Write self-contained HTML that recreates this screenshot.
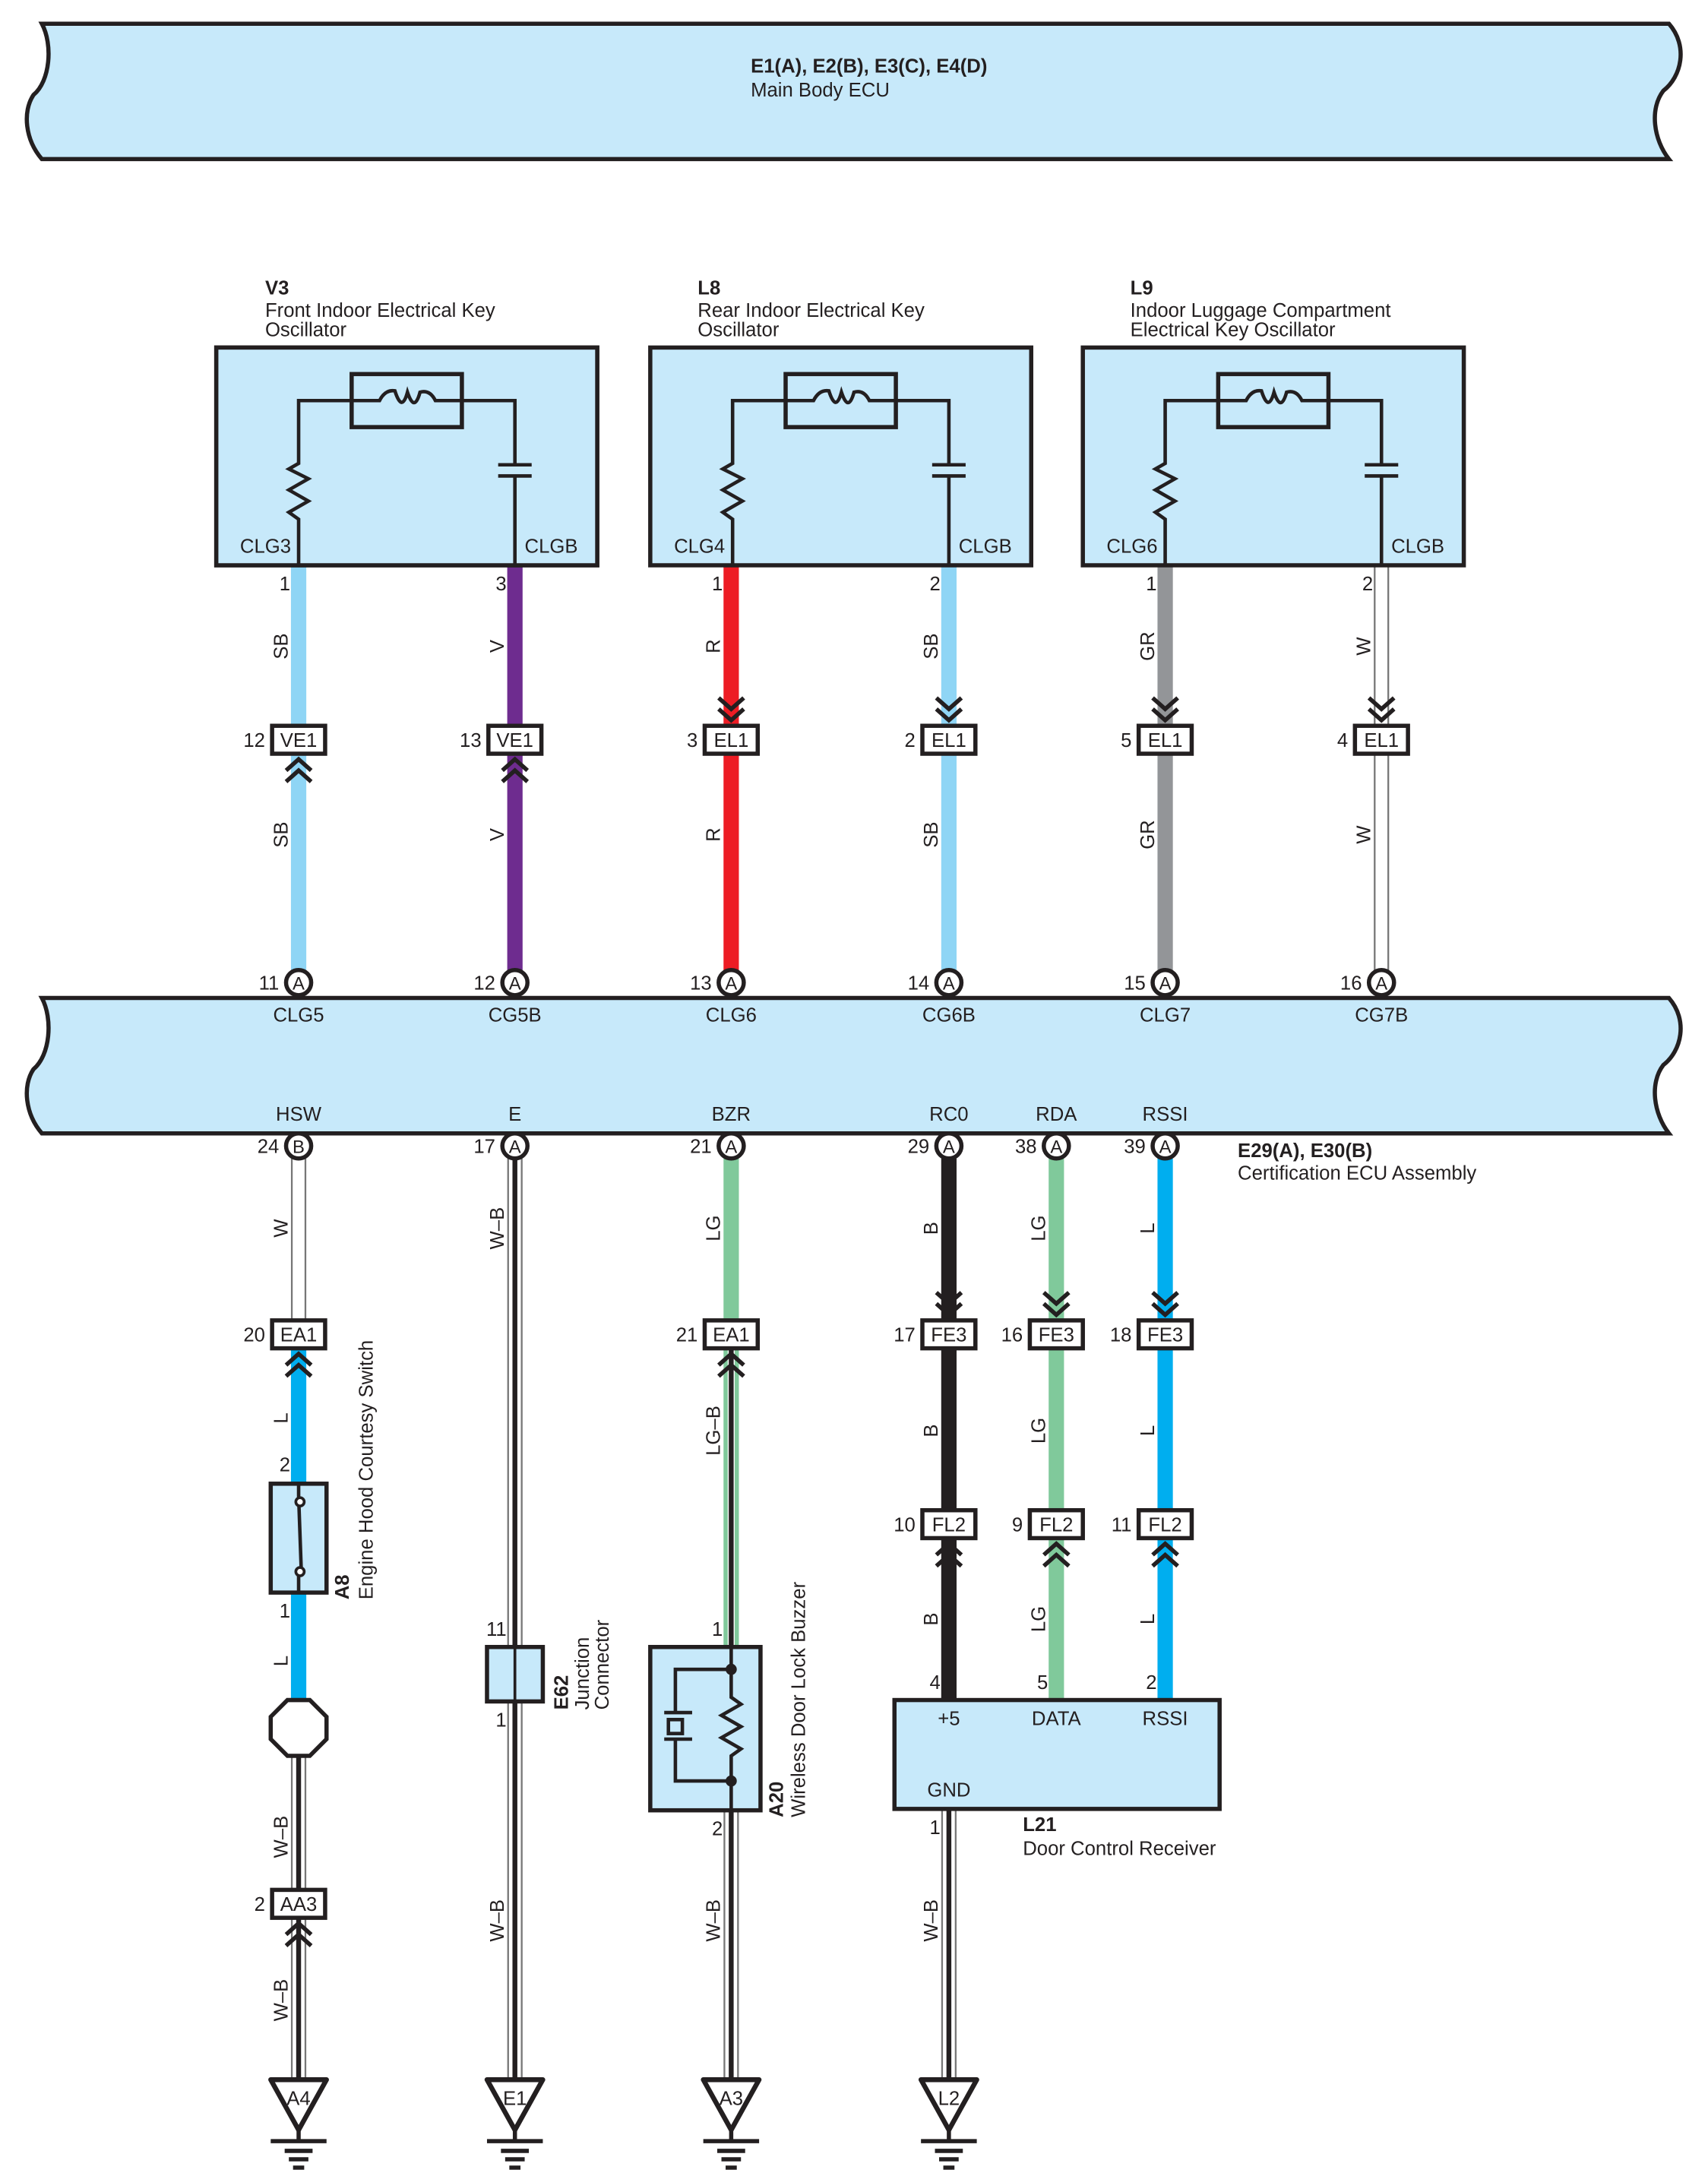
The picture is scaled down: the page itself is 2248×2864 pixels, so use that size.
<!DOCTYPE html>
<html><head><meta charset="utf-8"><style>
html,body{margin:0;padding:0;background:#fff}
svg{display:block}
text{font-family:"Liberation Sans",sans-serif;font-size:14px;fill:#231f20}
.b{font-weight:bold}
.m{text-anchor:middle}
.e{text-anchor:end}
</style></head><body>
<svg width="2248" height="2864" viewBox="0 0 1224 1559" preserveAspectRatio="none" xmlns="http://www.w3.org/2000/svg">
<defs>
<g id="osc">
<rect x="155" y="249" width="273" height="156" fill="#c7e9fa" stroke="#231f20" stroke-width="3"/>
<rect x="252" y="268" width="79" height="38" fill="none" stroke="#231f20" stroke-width="3"/>
<path d="M214,405 V372 L207,367 L221,359 L207,351 L221,343 L207,336 L214,332 V287 H272 Q276,279 283,280 Q288,296 292,281 Q297,296 301,281 Q308,279 312,287 H369 V333 M357,333 H381 M357,341 H381 M369,341 V405" fill="none" stroke="#231f20" stroke-width="2.5"/>
</g>
<g id="ground">
<polygon points="-20,0 20,0 0,36" fill="#fff" stroke="#231f20" stroke-width="3.5" stroke-linejoin="round"/>
<path d="M0,36 V44 M-20,44 H20 M-10,51 H10 M-7,57 H7 M-4,63 H4" stroke="#231f20" stroke-width="3"/>
</g>
<path id="chup" d="M-9,12 L0,4 L9,12 M-9,20 L0,12 L9,20" fill="none" stroke="#231f20" stroke-width="3"/>
<path id="chdn" d="M-9,-20 L0,-12 L9,-20 M-9,-12 L0,-4 L9,-12" fill="none" stroke="#231f20" stroke-width="3"/>
</defs>

<!-- top banner -->
<path d="M30,17 H1196 C1210,33 1205,55 1192,65 C1182,78 1185,100 1196,114 H30 C18,100 16,80 24,68 C36,58 38,32 30,17 Z" fill="#c7e9fa" stroke="#231f20" stroke-width="3"/>
<text x="538" y="52" class="b">E1(A), E2(B), E3(C), E4(D)</text>
<text x="538" y="69">Main Body ECU</text>

<!-- oscillator titles -->
<text x="190" y="211" class="b">V3</text><text x="190" y="227">Front Indoor Electrical Key</text><text x="190" y="241">Oscillator</text>
<text x="500" y="211" class="b">L8</text><text x="500" y="227">Rear Indoor Electrical Key</text><text x="500" y="241">Oscillator</text>
<text x="810" y="211" class="b">L9</text><text x="810" y="227">Indoor Luggage Compartment</text><text x="810" y="241">Electrical Key Oscillator</text>

<!-- upper wires -->
<g stroke-width="11">
<line x1="214" y1="405" x2="214" y2="696" stroke="#8fd5f5"/>
<line x1="369" y1="405" x2="369" y2="696" stroke="#6e2c8f"/>
<line x1="524" y1="405" x2="524" y2="696" stroke="#ed1c24"/>
<line x1="680" y1="405" x2="680" y2="696" stroke="#8fd5f5"/>
<line x1="835" y1="405" x2="835" y2="696" stroke="#939598"/>
<line x1="990" y1="405" x2="990" y2="696" stroke="#777"/>
</g>
<line x1="990" y1="405" x2="990" y2="696" stroke="#fff" stroke-width="8.5"/>

<g id="oscs">
<g><rect x="155" y="249" width="273" height="156" fill="#c7e9fa" stroke="#231f20" stroke-width="3"/></g>
</g>
<use href="#osc"/>
<use href="#osc" transform="translate(311,0)"/>
<use href="#osc" transform="translate(621,0)"/>
<text x="172" y="396">CLG3</text><text x="376" y="396">CLGB</text>
<text x="483" y="396">CLG4</text><text x="687" y="396">CLGB</text>
<text x="793" y="396">CLG6</text><text x="997" y="396">CLGB</text>

<!-- pin numbers top -->
<text x="208" y="423" class="e">1</text><text x="363" y="423" class="e">3</text>
<text x="518" y="423" class="e">1</text><text x="674" y="423" class="e">2</text>
<text x="829" y="423" class="e">1</text><text x="984" y="423" class="e">2</text>

<!-- wire color labels rotated -->
<g>
<text transform="translate(206,463) rotate(-90)" class="m">SB</text>
<text transform="translate(206,598) rotate(-90)" class="m">SB</text>
<text transform="translate(361,463) rotate(-90)" class="m">V</text>
<text transform="translate(361,598) rotate(-90)" class="m">V</text>
<text transform="translate(516,463) rotate(-90)" class="m">R</text>
<text transform="translate(516,598) rotate(-90)" class="m">R</text>
<text transform="translate(672,463) rotate(-90)" class="m">SB</text>
<text transform="translate(672,598) rotate(-90)" class="m">SB</text>
<text transform="translate(827,463) rotate(-90)" class="m">GR</text>
<text transform="translate(827,598) rotate(-90)" class="m">GR</text>
<text transform="translate(982,463) rotate(-90)" class="m">W</text>
<text transform="translate(982,598) rotate(-90)" class="m">W</text>
</g>

<!-- upper inline connectors -->
<g fill="#fff" stroke="#231f20" stroke-width="3">
<rect x="195" y="520" width="38" height="20"/><rect x="350" y="520" width="38" height="20"/>
<rect x="505" y="520" width="38" height="20"/><rect x="661" y="520" width="38" height="20"/>
<rect x="816" y="520" width="38" height="20"/><rect x="971" y="520" width="38" height="20"/>
</g>
<text x="214" y="535" class="m">VE1</text><text x="369" y="535" class="m">VE1</text>
<text x="524" y="535" class="m">EL1</text><text x="680" y="535" class="m">EL1</text>
<text x="835" y="535" class="m">EL1</text><text x="990" y="535" class="m">EL1</text>
<text x="190" y="535" class="e">12</text><text x="345" y="535" class="e">13</text>
<text x="500" y="535" class="e">3</text><text x="656" y="535" class="e">2</text>
<text x="811" y="535" class="e">5</text><text x="966" y="535" class="e">4</text>
<use href="#chup" transform="translate(214,540)"/><use href="#chup" transform="translate(369,540)"/>
<use href="#chdn" transform="translate(524,520)"/><use href="#chdn" transform="translate(680,520)"/>
<use href="#chdn" transform="translate(835,520)"/><use href="#chdn" transform="translate(990,520)"/>

<!-- middle bar -->
<path d="M30,715 H1196 C1210,731 1205,753 1192,763 C1182,776 1185,798 1196,812 H30 C18,798 16,778 24,766 C36,756 38,730 30,715 Z" fill="#c7e9fa" stroke="#231f20" stroke-width="3"/>
<g fill="#fff" stroke="#231f20" stroke-width="3">
<circle cx="214" cy="704" r="9"/><circle cx="369" cy="704" r="9"/><circle cx="524" cy="704" r="9"/>
<circle cx="680" cy="704" r="9"/><circle cx="835" cy="704" r="9"/><circle cx="990" cy="704" r="9"/>
</g>
<g font-size="12">
<text x="214" y="709" class="m" style="font-size:13px">A</text><text x="369" y="709" class="m" style="font-size:13px">A</text><text x="524" y="709" class="m" style="font-size:13px">A</text>
<text x="680" y="709" class="m" style="font-size:13px">A</text><text x="835" y="709" class="m" style="font-size:13px">A</text><text x="990" y="709" class="m" style="font-size:13px">A</text>
</g>
<text x="200" y="709" class="e">11</text><text x="355" y="709" class="e">12</text><text x="510" y="709" class="e">13</text>
<text x="666" y="709" class="e">14</text><text x="821" y="709" class="e">15</text><text x="976" y="709" class="e">16</text>
<text x="214" y="732" class="m">CLG5</text><text x="369" y="732" class="m">CG5B</text><text x="524" y="732" class="m">CLG6</text>
<text x="680" y="732" class="m">CG6B</text><text x="835" y="732" class="m">CLG7</text><text x="990" y="732" class="m">CG7B</text>
<text x="214" y="803" class="m">HSW</text><text x="369" y="803" class="m">E</text><text x="524" y="803" class="m">BZR</text>
<text x="680" y="803" class="m">RC0</text><text x="757" y="803" class="m">RDA</text><text x="835" y="803" class="m">RSSI</text>
<text x="887" y="829" class="b">E29(A), E30(B)</text><text x="887" y="845">Certification ECU Assembly</text>

<!-- lower wires -->
<!-- col 214 -->
<line x1="214" y1="830" x2="214" y2="946" stroke="#777" stroke-width="11"/><line x1="214" y1="830" x2="214" y2="946" stroke="#fff" stroke-width="8.5"/>
<line x1="214" y1="966" x2="214" y2="1218" stroke="#00aeef" stroke-width="11"/>
<line x1="214" y1="1258" x2="214" y2="1490" stroke="#777" stroke-width="11"/><line x1="214" y1="1258" x2="214" y2="1490" stroke="#fff" stroke-width="8.5"/><line x1="214" y1="1258" x2="214" y2="1490" stroke="#231f20" stroke-width="3.5"/>
<!-- col 369 -->
<line x1="369" y1="830" x2="369" y2="1490" stroke="#777" stroke-width="11"/><line x1="369" y1="830" x2="369" y2="1490" stroke="#fff" stroke-width="8.5"/><line x1="369" y1="830" x2="369" y2="1490" stroke="#231f20" stroke-width="3.5"/>
<!-- col 524 -->
<line x1="524" y1="830" x2="524" y2="946" stroke="#80c99b" stroke-width="11"/>
<line x1="524" y1="966" x2="524" y2="1180" stroke="#80c99b" stroke-width="11"/><line x1="524" y1="966" x2="524" y2="1180" stroke="#fff" stroke-width="5"/><line x1="524" y1="966" x2="524" y2="1180" stroke="#231f20" stroke-width="3.5"/>
<line x1="524" y1="1297" x2="524" y2="1490" stroke="#777" stroke-width="11"/><line x1="524" y1="1297" x2="524" y2="1490" stroke="#fff" stroke-width="8.5"/><line x1="524" y1="1297" x2="524" y2="1490" stroke="#231f20" stroke-width="3.5"/>
<!-- col 680/757/835 -->
<line x1="680" y1="830" x2="680" y2="1218" stroke="#231f20" stroke-width="11"/>
<line x1="757" y1="830" x2="757" y2="1218" stroke="#80c99b" stroke-width="11"/>
<line x1="835" y1="830" x2="835" y2="1218" stroke="#00aeef" stroke-width="11"/>
<line x1="680" y1="1296" x2="680" y2="1490" stroke="#777" stroke-width="11"/><line x1="680" y1="1296" x2="680" y2="1490" stroke="#fff" stroke-width="8.5"/><line x1="680" y1="1296" x2="680" y2="1490" stroke="#231f20" stroke-width="3.5"/>

<!-- bottom-of-bar circles -->
<g fill="#fff" stroke="#231f20" stroke-width="3">
<circle cx="214" cy="821" r="9"/><circle cx="369" cy="821" r="9"/><circle cx="524" cy="821" r="9"/>
<circle cx="680" cy="821" r="9"/><circle cx="757" cy="821" r="9"/><circle cx="835" cy="821" r="9"/>
</g>
<text x="214" y="826" class="m" style="font-size:13px">B</text><text x="369" y="826" class="m" style="font-size:13px">A</text><text x="524" y="826" class="m" style="font-size:13px">A</text>
<text x="680" y="826" class="m" style="font-size:13px">A</text><text x="757" y="826" class="m" style="font-size:13px">A</text><text x="835" y="826" class="m" style="font-size:13px">A</text>
<text x="200" y="826" class="e">24</text><text x="355" y="826" class="e">17</text><text x="510" y="826" class="e">21</text>
<text x="666" y="826" class="e">29</text><text x="743" y="826" class="e">38</text><text x="821" y="826" class="e">39</text>

<!-- lower rotated wire labels -->
<text transform="translate(206,880) rotate(-90)" class="m">W</text>
<text transform="translate(206,1016) rotate(-90)" class="m">L</text>
<text transform="translate(206,1190) rotate(-90)" class="m">L</text>
<text transform="translate(206,1316) rotate(-90)" class="m">W–B</text>
<text transform="translate(206,1433) rotate(-90)" class="m">W–B</text>
<text transform="translate(361,880) rotate(-90)" class="m">W–B</text>
<text transform="translate(361,1376) rotate(-90)" class="m">W–B</text>
<text transform="translate(516,880) rotate(-90)" class="m">LG</text>
<text transform="translate(516,1025) rotate(-90)" class="m">LG–B</text>
<text transform="translate(516,1376) rotate(-90)" class="m">W–B</text>
<text transform="translate(672,880) rotate(-90)" class="m">B</text>
<text transform="translate(672,1025) rotate(-90)" class="m">B</text>
<text transform="translate(672,1160) rotate(-90)" class="m">B</text>
<text transform="translate(672,1376) rotate(-90)" class="m">W–B</text>
<text transform="translate(749,880) rotate(-90)" class="m">LG</text>
<text transform="translate(749,1025) rotate(-90)" class="m">LG</text>
<text transform="translate(749,1160) rotate(-90)" class="m">LG</text>
<text transform="translate(827,880) rotate(-90)" class="m">L</text>
<text transform="translate(827,1025) rotate(-90)" class="m">L</text>
<text transform="translate(827,1160) rotate(-90)" class="m">L</text>

<!-- lower inline connectors -->
<g fill="#fff" stroke="#231f20" stroke-width="3">
<rect x="195" y="946" width="38" height="20"/><rect x="505" y="946" width="38" height="20"/>
<rect x="661" y="946" width="38" height="20"/><rect x="738" y="946" width="38" height="20"/><rect x="816" y="946" width="38" height="20"/>
<rect x="661" y="1082" width="38" height="20"/><rect x="738" y="1082" width="38" height="20"/><rect x="816" y="1082" width="38" height="20"/>
<rect x="195" y="1354" width="38" height="20"/>
</g>
<text x="214" y="961" class="m">EA1</text><text x="524" y="961" class="m">EA1</text>
<text x="680" y="961" class="m">FE3</text><text x="757" y="961" class="m">FE3</text><text x="835" y="961" class="m">FE3</text>
<text x="680" y="1097" class="m">FL2</text><text x="757" y="1097" class="m">FL2</text><text x="835" y="1097" class="m">FL2</text>
<text x="214" y="1369" class="m">AA3</text>
<text x="190" y="961" class="e">20</text><text x="500" y="961" class="e">21</text>
<text x="656" y="961" class="e">17</text><text x="733" y="961" class="e">16</text><text x="811" y="961" class="e">18</text>
<text x="656" y="1097" class="e">10</text><text x="733" y="1097" class="e">9</text><text x="811" y="1097" class="e">11</text>
<text x="190" y="1369" class="e">2</text>
<use href="#chup" transform="translate(214,966)"/><use href="#chup" transform="translate(524,966)"/>
<use href="#chdn" transform="translate(680,946)"/><use href="#chdn" transform="translate(757,946)"/><use href="#chdn" transform="translate(835,946)"/>
<use href="#chup" transform="translate(680,1102)"/><use href="#chup" transform="translate(757,1102)"/><use href="#chup" transform="translate(835,1102)"/>
<use href="#chup" transform="translate(214,1374)"/>

<!-- A8 switch -->
<rect x="194" y="1063" width="40" height="78" fill="#c7e9fa" stroke="#231f20" stroke-width="3"/>
<path d="M214,1063 V1072 M214,1072 L216,1128 M214,1128 V1141" stroke="#231f20" stroke-width="2.5" fill="none"/>
<circle cx="215" cy="1076" r="3" fill="#fff" stroke="#231f20" stroke-width="2"/>
<circle cx="215" cy="1126" r="3" fill="#fff" stroke="#231f20" stroke-width="2"/>
<text x="208" y="1054" class="e">2</text><text x="208" y="1159" class="e">1</text>
<text transform="translate(250,1146) rotate(-90)" class="b">A8</text>
<text transform="translate(267,1146) rotate(-90)">Engine Hood Courtesy Switch</text>
<!-- octagon -->
<polygon points="206,1218 222,1218 234,1230 234,1246 222,1258 206,1258 194,1246 194,1230" fill="#fff" stroke="#231f20" stroke-width="3"/>

<!-- E62 -->
<rect x="349" y="1180" width="40" height="39" fill="#c7e9fa" stroke="#231f20" stroke-width="3"/>
<line x1="369" y1="1180" x2="369" y2="1219" stroke="#231f20" stroke-width="2"/>
<text x="363" y="1172" class="e">11</text><text x="363" y="1237" class="e">1</text>
<text transform="translate(407,1225) rotate(-90)" class="b">E62</text>
<text transform="translate(422,1225) rotate(-90)">Junction</text>
<text transform="translate(436,1225) rotate(-90)">Connector</text>

<!-- A20 buzzer -->
<rect x="466" y="1180" width="79" height="117" fill="#c7e9fa" stroke="#231f20" stroke-width="3"/>
<path d="M524,1180 V1216 L531,1221 L517,1229 L531,1237 L517,1245 L531,1253 L524,1258 V1297 M524,1196 H484 V1227 M476,1227 H496 M476,1246 H496 M484,1246 V1276 H524" fill="none" stroke="#231f20" stroke-width="2.5"/>
<rect x="479" y="1232" width="10" height="10" fill="none" stroke="#231f20" stroke-width="2.5"/>
<circle cx="524" cy="1196" r="4" fill="#231f20"/><circle cx="524" cy="1276" r="4" fill="#231f20"/>
<text x="518" y="1172" class="e">1</text><text x="518" y="1315" class="e">2</text>
<text transform="translate(561,1302) rotate(-90)" class="b">A20</text>
<text transform="translate(577,1302) rotate(-90)">Wireless Door Lock Buzzer</text>

<!-- L21 -->
<rect x="641" y="1218" width="233" height="78" fill="#c7e9fa" stroke="#231f20" stroke-width="3"/>
<text x="680" y="1236" class="m">+5</text><text x="757" y="1236" class="m">DATA</text><text x="835" y="1236" class="m">RSSI</text>
<text x="680" y="1287" class="m">GND</text>
<text x="674" y="1210" class="e">4</text><text x="751" y="1210" class="e">5</text><text x="829" y="1210" class="e">2</text>
<text x="674" y="1314" class="e">1</text>
<text x="733" y="1312" class="b">L21</text><text x="733" y="1329">Door Control Receiver</text>

<!-- grounds -->
<use href="#ground" transform="translate(214,1490)"/><use href="#ground" transform="translate(369,1490)"/>
<use href="#ground" transform="translate(524,1490)"/><use href="#ground" transform="translate(680,1490)"/>
<text x="214" y="1508" class="m">A4</text><text x="369" y="1508" class="m">E1</text>
<text x="524" y="1508" class="m">A3</text><text x="680" y="1508" class="m">L2</text>
</svg>
</body></html>
